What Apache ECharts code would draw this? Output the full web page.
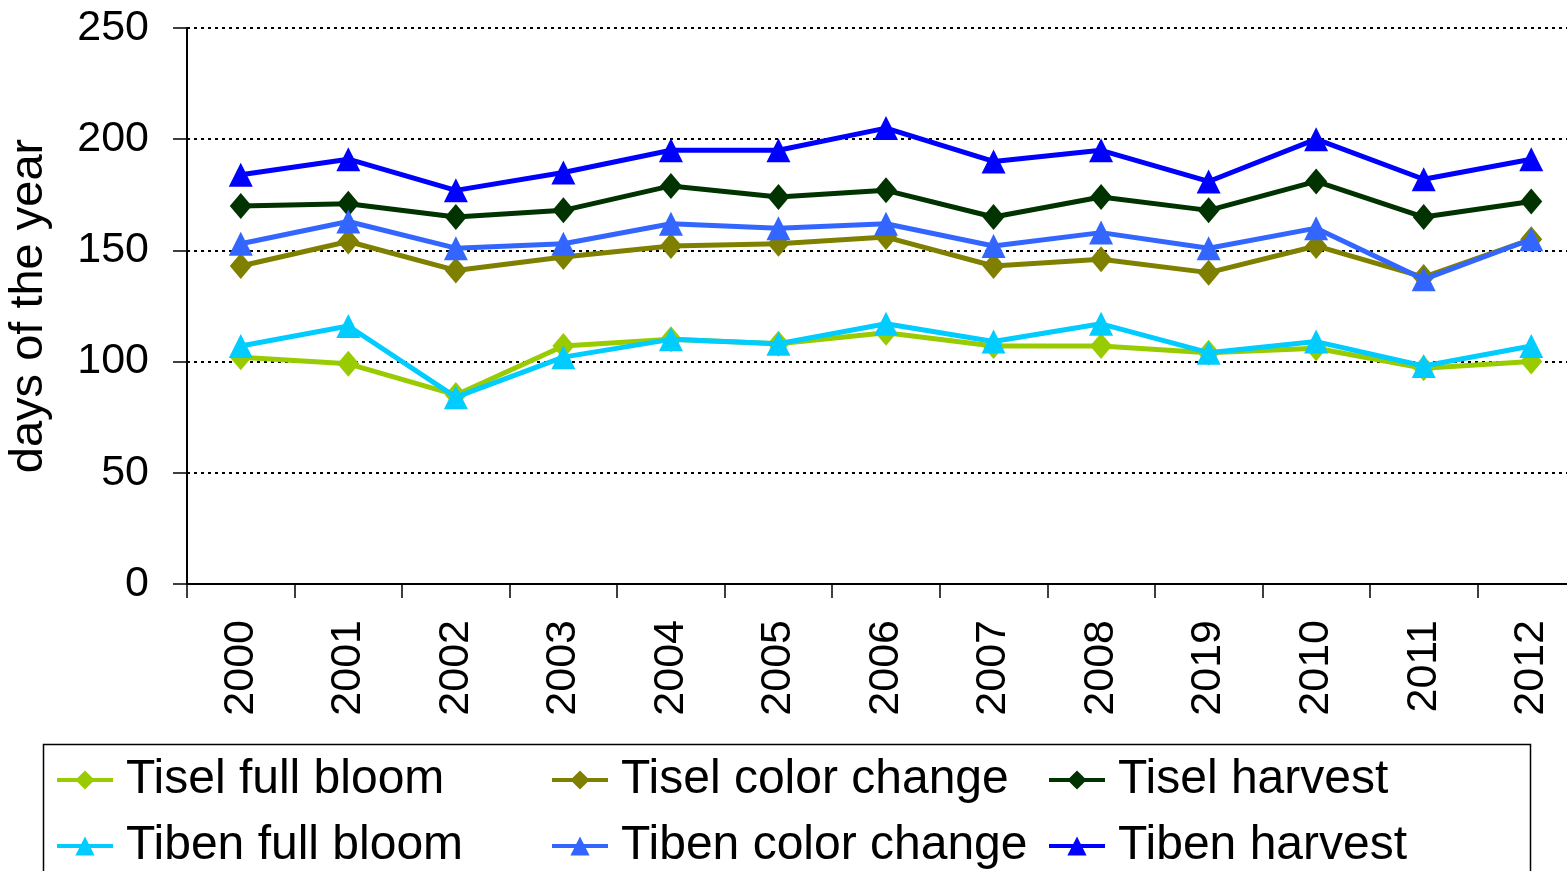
<!DOCTYPE html>
<html><head><meta charset="utf-8">
<script src="https://cdn.jsdelivr.net/npm/echarts@6/dist/echarts.min.js"></script>
<style>html,body{margin:0;padding:0;background:#fff}#c{width:1567px;height:871px}</style>
</head><body><div id="c"></div>
<script>
const years = ['2000','2001','2002','2003','2004','2005','2006','2007','2008','2019','2010','2011','2012'];
const yTicks = [0, 50, 100, 150, 200, 250];
const tiselFullBloom = [102, 99, 85, 107, 110, 108, 113, 107, 107, 104, 106, 97, 100];
const tiselColorChange = [143, 154, 141, 147, 152, 153, 156, 143, 146, 140, 152, 138, 155];
const tiselHarvest = [170, 171, 165, 168, 179, 174, 177, 165, 174, 168, 181, 165, 172];
const tibenFullBloom = [107, 116, 84, 102, 110, 108, 117, 109, 117, 104, 109, 98, 107];
const tibenColorChange = [153, 163, 151, 153, 162, 160, 162, 152, 158, 151, 160, 137, 155];
const tibenHarvest = [184, 191, 177, 185, 195, 195, 205, 190, 195, 181, 200, 182, 191];

const names = ['Tisel full bloom','Tisel color change','Tisel harvest','Tiben full bloom','Tiben color change','Tiben harvest'];
const dataSets = [tiselFullBloom, tiselColorChange, tiselHarvest, tibenFullBloom, tibenColorChange, tibenHarvest];
const colors = ['#99CC00','#808000','#003300','#00CCFF','#3366FF','#0000FF'];
const symbols = ['diamond','diamond','diamond','triangle','triangle','triangle'];
const font = 'Liberation Sans, Arial, sans-serif';

const legendLeft = [55, 550, 1047, 55, 550, 1047];
const legendTop = [756, 756, 756, 822, 822, 822];

const chart = echarts.init(document.getElementById('c'), null, {renderer:'canvas'});
chart.setOption({
  animation: false,
  backgroundColor: '#fff',
  grid: {left: 187, top: 28, right: -18, bottom: 287, containLabel: false, outerBoundsMode: 'none'},
  xAxis: {
    type: 'category', data: years, boundaryGap: true,
    axisLine: {lineStyle: {color: '#000', width: 2}},
    axisTick: {show: true, length: 14, lineStyle: {color: '#000', width: 1.5}},
    axisLabel: {rotate: 90, margin: 36, fontFamily: font, fontSize: 43, color: '#000'}
  },
  yAxis: {
    type: 'value', min: 0, max: 250, interval: 50,
    name: 'days of the year', nameLocation: 'middle', nameGap: 134,
    nameTextStyle: {fontFamily: font, fontSize: 47, color: '#000'},
    axisLine: {show: true, lineStyle: {color: '#000', width: 2}},
    axisTick: {show: true, length: 14, lineStyle: {color: '#000', width: 1.5}},
    axisLabel: {margin: 38, fontFamily: font, fontSize: 43, color: '#000',
      formatter: v => yTicks.includes(v) ? String(v) : ''},
    splitLine: {show: true, lineStyle: {color: '#000', type: [3, 4], width: 2}}
  },
  legend: names.map((n, i) => ({
    left: legendLeft[i], top: legendTop[i], data: [n], padding: 0,
    itemWidth: 56, itemHeight: 24,
    lineStyle: {width: 4},
    textStyle: {fontFamily: font, fontSize: 48, color: '#000', padding: [0,0,0,8]}
  })),
  graphic: [{type: 'rect', left: 41, top: 742, shape: {width: 1487, height: 140},
    style: {fill: 'none', stroke: '#000', lineWidth: 1.5}, silent: true}],
  series: dataSets.map((d, i) => ({
    name: names[i], type: 'line', data: d,
    symbol: symbols[i], symbolSize: symbols[i] === 'diamond' ? [22, 26] : [24, 24],
    lineStyle: {color: colors[i], width: 5},
    itemStyle: {color: colors[i]},
    z: 2 + i
  }))
});
</script></body></html>
